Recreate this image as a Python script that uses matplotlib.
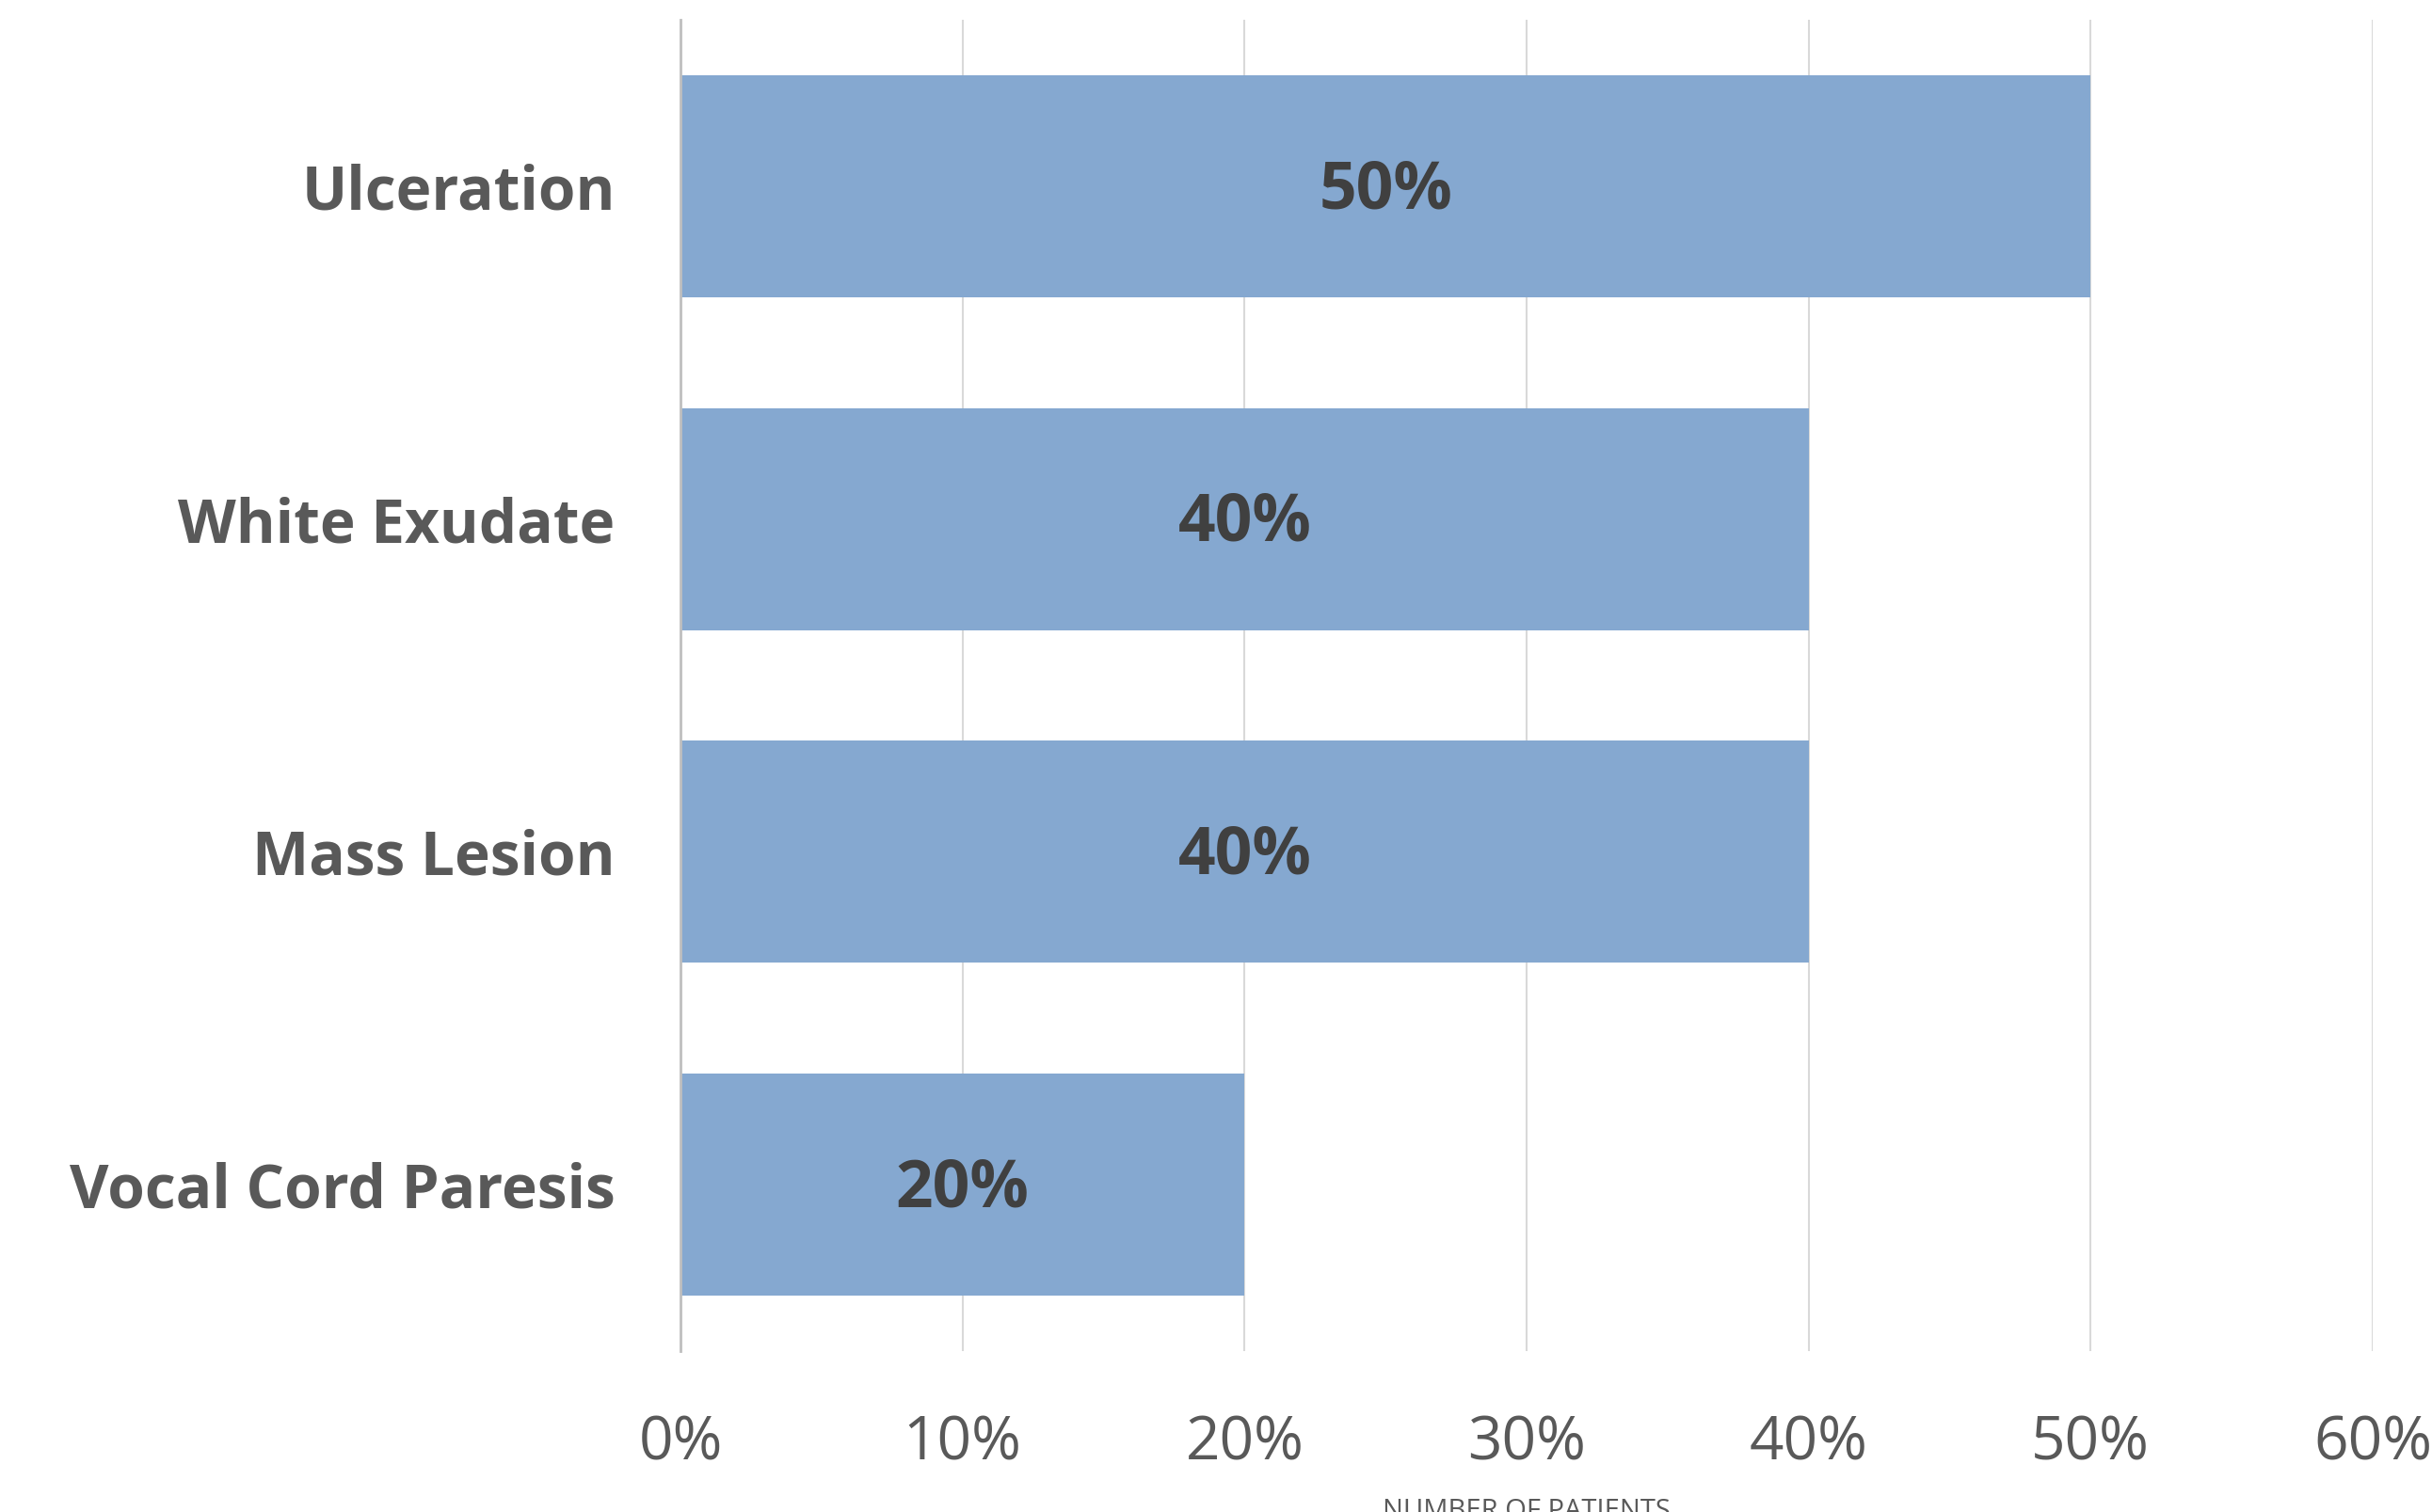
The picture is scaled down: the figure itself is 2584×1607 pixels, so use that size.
import matplotlib
matplotlib.use("Agg")
import matplotlib.pyplot as plt
from matplotlib.ticker import FuncFormatter

categories = ["Ulceration", "White Exudate", "Mass Lesion", "Vocal Cord Paresis"]
values = [0.50, 0.40, 0.40, 0.20]
xticks = [0, 0.1, 0.2, 0.3, 0.4, 0.5, 0.6]
xlabel = "NUMBER OF PATIENTS"

plt.rcParams['font.family'] = ['Open Sans', 'DejaVu Sans']

fig = plt.figure(figsize=(25.84, 16.07), dpi=100)
ax = fig.add_axes([0.2798, 0.1064, 0.6958, 0.8806])

ypos = list(range(len(categories)))
bars = ax.barh(ypos, values, height=0.667, color='#85A8D0', zorder=2)
ax.set_ylim(len(categories) - 0.5, -0.5)
ax.set_xlim(0, 0.6)
ax.set_xticks(xticks)
ax.xaxis.set_major_formatter(FuncFormatter(lambda v, p: f"{v*100:.0f}%"))
ax.set_yticks(ypos)
ax.set_yticklabels(categories, fontsize=46, fontweight='bold', color='#595959')
for lbl in ax.get_yticklabels():
    lbl.set_y(lbl.get_position()[1])

ax.tick_params(axis='x', length=0, pad=48, labelsize=46, labelcolor='#595959')
ax.tick_params(axis='y', length=0, pad=50)
ax.grid(axis='x', color='#D9D9D9', linewidth=1.5, zorder=0)
for s in ['top', 'right', 'bottom']:
    ax.spines[s].set_visible(False)
ax.spines['left'].set_color('#BFBFBF')
ax.spines['left'].set_linewidth(2)

for b, v in zip(bars, values):
    ax.text(v / 2, b.get_y() + b.get_height() / 2 + 0.015, f"{v*100:.0f}%",
            ha='center', va='center', fontsize=50, fontweight='bold', color='#404040', zorder=3)

fig.text(0.6277, 0.0095, xlabel, ha='center', va='top', fontsize=21, color='#595959')

fig.savefig("out.png", dpi=100, facecolor='white')
